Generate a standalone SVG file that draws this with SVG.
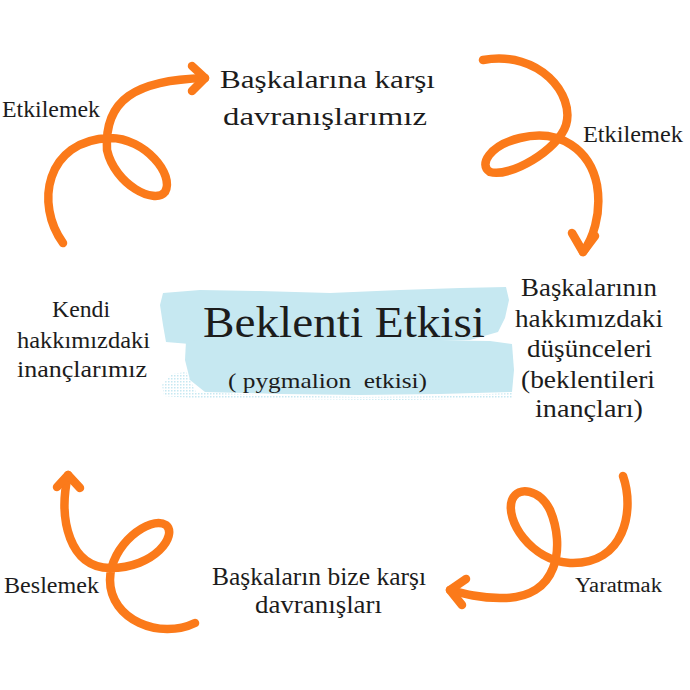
<svg xmlns="http://www.w3.org/2000/svg" width="690" height="690" viewBox="0 0 690 690">
<style>
  .t { font-family: 'Liberation Serif', 'Times New Roman', serif; fill: #1c1c1c; }
  .n { font-size: 26px; }
  .s { font-size: 23px; }
  .lbl { font-size: 23px; }
  .arrow { fill: none; stroke: #FB7A1A; stroke-width: 8.5; stroke-linecap: round; stroke-linejoin: round; }
  .brush { fill: #C6E8F1; }
</style>
<defs>
  <pattern id="speck" width="3" height="3" patternUnits="userSpaceOnUse">
    <rect x="0" y="0" width="1.5" height="1.5" fill="#C6E8F1"/>
  </pattern>
</defs>
<rect width="690" height="690" fill="#ffffff"/>

<g id="center">
  <path class="brush" d="M163,293 L200,290 L260,291 L330,293 L400,290 L460,288 L506,287 L509,300 L505,318 L498,332 L470,340 L380,343 L300,342 L230,343 L190,344 L166,342 L163,325 L160,305 Z"/>
  <path class="brush" d="M186,341 L260,338 L340,339 L420,340 L490,341 L512,344 L514,370 L512,392 L440,394 L360,395 L280,394 L205,392 L190,380 L185,360 Z"/>
  <path d="M186,372 L196,392 L260,395 L360,397 L450,396 L512,393 L512,398 L400,400 L280,399 L190,398 L164,396 L162,385 L172,374 Z" fill="url(#speck)"/>
  <text class="t" x="203" y="337" font-size="45" textLength="282" lengthAdjust="spacingAndGlyphs">Beklenti Etkisi</text>
  <text class="t" x="228" y="388" font-size="21" textLength="199" lengthAdjust="spacingAndGlyphs" xml:space="preserve">( pygmalion  etkisi)</text>
</g>

<g id="node-top">
  <text class="t n" x="220" y="88" textLength="215" lengthAdjust="spacingAndGlyphs">Başkalarına karşı</text>
  <text class="t n" x="223" y="125" textLength="204" lengthAdjust="spacingAndGlyphs">davranışlarımız</text>
</g>

<g id="node-right">
  <text class="t n" x="521" y="296" textLength="136" lengthAdjust="spacingAndGlyphs">Başkalarının</text>
  <text class="t n" x="515" y="327" textLength="148" lengthAdjust="spacingAndGlyphs">hakkımızdaki</text>
  <text class="t n" x="527" y="357" textLength="125" lengthAdjust="spacingAndGlyphs">düşünceleri</text>
  <text class="t n" x="521" y="388" textLength="134" lengthAdjust="spacingAndGlyphs">(beklentileri</text>
  <text class="t n" x="535" y="417" textLength="108" lengthAdjust="spacingAndGlyphs">inançları)</text>
</g>

<g id="node-bottom">
  <text class="t n" x="212" y="585" textLength="214" lengthAdjust="spacingAndGlyphs">Başkaların bize karşı</text>
  <text class="t n" x="255" y="613" textLength="127" lengthAdjust="spacingAndGlyphs">davranışları</text>
</g>

<g id="node-left">
  <text class="t s" x="52" y="317" textLength="58" lengthAdjust="spacingAndGlyphs">Kendi</text>
  <text class="t s" x="17" y="348" textLength="133" lengthAdjust="spacingAndGlyphs">hakkımızdaki</text>
  <text class="t s" x="17" y="377" textLength="130" lengthAdjust="spacingAndGlyphs">inançlarımız</text>
</g>

<g id="connectors">
  <g id="arrow-left-top">
    <path class="arrow" d="M63,243 C35,205 45,140 110,138 C145,138 175,175 165,192 C155,205 115,185 107,150 C104,100 135,80 205,78"/>
    <polyline class="arrow" points="192,66 205,78 192,91"/>
    <text class="t lbl" x="2" y="117" textLength="98" lengthAdjust="spacingAndGlyphs">Etkilemek</text>
  </g>
  <g id="arrow-top-right">
    <path class="arrow" d="M483,60 C540,50 575,95 566,125 C558,150 510,178 490,172 C478,165 490,145 520,138 C560,128 590,150 597,185 C602,215 592,240 583,252"/>
    <polyline class="arrow" points="572,233 583,252 595,236"/>
    <text class="t lbl" x="583" y="142" textLength="100" lengthAdjust="spacingAndGlyphs">Etkilemek</text>
  </g>
  <g id="arrow-right-bottom">
    <path class="arrow" d="M623,476 C635,510 625,565 570,563 C530,560 505,520 512,500 C518,485 540,490 550,510 C565,545 560,600 500,598 C480,598 465,594 450,590"/>
    <polyline class="arrow" points="466,579 450,590 462,605"/>
    <text class="t" x="575" y="592" font-size="20" textLength="87" lengthAdjust="spacingAndGlyphs">Yaratmak</text>
  </g>
  <g id="arrow-bottom-left">
    <path class="arrow" d="M195,623 C160,640 110,620 110,580 C110,545 150,515 166,525 C178,535 155,568 110,568 C70,568 58,520 68,475"/>
    <polyline class="arrow" points="57,487 68,475 80,488"/>
    <text class="t lbl" x="4" y="593" textLength="95" lengthAdjust="spacingAndGlyphs">Beslemek</text>
  </g>
</g>
</svg>
